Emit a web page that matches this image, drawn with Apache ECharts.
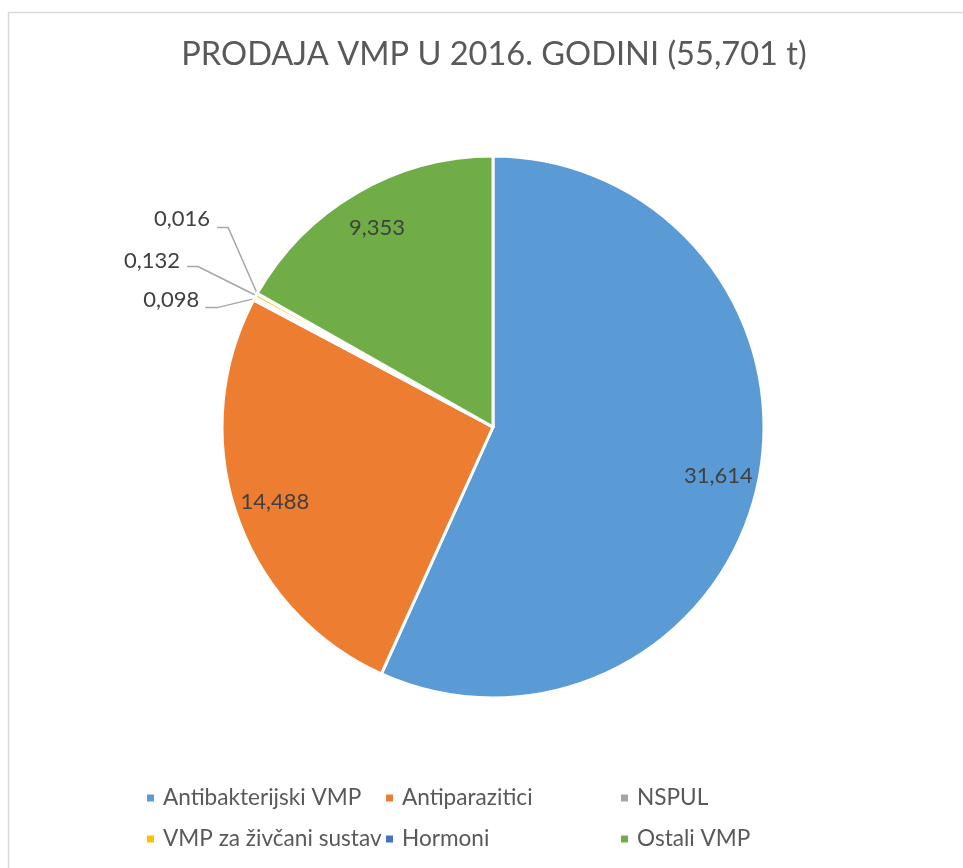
<!DOCTYPE html>
<html>
<head>
<meta charset="utf-8">
<script src="https://cdn.jsdelivr.net/npm/echarts@6/dist/echarts.min.js"></script>
<style>html,body{margin:0;padding:0;background:#fff}#c{width:963px;height:868px}</style>
</head>
<body>
<div id="c"></div>
<script>
var categories = ['Antibakterijski VMP', 'Antiparazitici', 'NSPUL', 'VMP za živčani sustav', 'Hormoni', 'Ostali VMP'];
var values = [31.614, 14.488, 0.098, 0.132, 0.016, 9.353];
var colors = ['#5B9BD5', '#ED7D31', '#A5A5A5', '#FFC000', '#4472C4', '#70AD47'];
var titleText = 'PRODAJA VMP U 2016. GODINI (55,701 t)';
var legendColumns = [
  ['Antibakterijski VMP', 'VMP za živčani sustav'],
  ['Antiparazitici', 'Hormoni'],
  ['NSPUL', 'Ostali VMP']
];
var legendLefts = [140, 379, 614];

// Excel-style leader-line offsets (relative to each slice's anchor point) for the tiny slices
var leaderOffsets = {
  'NSPUL':                 { tx: -55, ty: 1,   bx: -37, by: 9,   ex: -49 },
  'VMP za živčani sustav': { tx: -76, ty: -35, bx: -58, by: -29, ex: -69 },
  'Hormoni':               { tx: -47, ty: -75, bx: -29, by: -66, ex: -40 }
};

var FONT = 'Lato';
function fmt(v) { return v.toFixed(3).replace('.', ','); }
var total = values.reduce(function (a, b) { return a + b; }, 0);
function isSmall(v) { return v / total < 0.02; }

var pieData = categories.map(function (c, i) {
  var small = isSmall(values[i]);
  return {
    name: c, value: values[i],
    itemStyle: { color: colors[i] },
    label: { show: small },
    labelLine: { show: small }
  };
});
var labelData = categories.map(function (c, i) {
  return {
    name: c, value: values[i],
    itemStyle: { color: 'rgba(0,0,0,0)' },
    label: { show: !isSmall(values[i]) }
  };
});

var chart = echarts.init(document.getElementById('c'), null, { renderer: 'canvas' });
var legends = legendColumns.map(function (col, k) {
  return {
    orient: 'vertical',
    left: legendLefts[k],
    top: 781,
    data: col,
    icon: 'rect',
    itemWidth: 9,
    itemHeight: 9,
    itemGap: 17,
    selectedMode: false,
    textStyle: { color: '#595959', fontFamily: FONT, fontSize: 22.6, lineHeight: 24, padding: [0, 0, 0, 3] }
  };
});

chart.setOption({
  animation: false,
  backgroundColor: '#fff',
  title: {
    text: titleText,
    left: 489,
    textAlign: 'center',
    top: 33,
    textStyle: { color: '#595959', fontFamily: FONT, fontSize: 32.6, fontWeight: 'normal' }
  },
  legend: legends,
  graphic: [{
    type: 'rect',
    shape: { x: 8.5, y: 12.5, width: 1000, height: 1000 },
    style: { fill: 'none', stroke: '#d9d9d9', lineWidth: 1.5 },
    silent: true
  }],
  series: [{
    type: 'pie',
    center: [493, 427],
    radius: [0, 271],
    startAngle: 90,
    clockwise: true,
    avoidLabelOverlap: false,
    itemStyle: { borderColor: '#fff', borderWidth: 3 },
    label: {
      position: 'outside',
      color: '#404040', fontFamily: FONT, fontSize: 22,
      formatter: function (p) { return fmt(p.value); }
    },
    labelLine: { length: 20, length2: 10, lineStyle: { color: '#a6a6a6', width: 1.5 } },
    labelLayout: function (p) {
      var name = categories[p.dataIndex];
      var o = leaderOffsets[name];
      if (!o || !p.labelLinePoints) return {};
      var a = p.labelLinePoints[0];
      return {
        x: a[0] + o.tx,
        y: a[1] + o.ty,
        align: 'right',
        verticalAlign: 'middle',
        labelLinePoints: [
          [a[0], a[1]],
          [a[0] + o.bx, a[1] + o.by],
          [a[0] + o.ex, a[1] + o.by]
        ]
      };
    },
    emphasis: { disabled: true },
    data: pieData
  }, {
    type: 'pie',
    center: [493, 427],
    radius: [184, 271],
    startAngle: 90,
    clockwise: true,
    silent: true,
    label: {
      position: 'inside',
      color: '#404040', fontFamily: FONT, fontSize: 22,
      formatter: function (p) { return fmt(p.value); }
    },
    labelLine: { show: false },
    emphasis: { disabled: true },
    data: labelData
  }]
});
</script>
</body>
</html>
